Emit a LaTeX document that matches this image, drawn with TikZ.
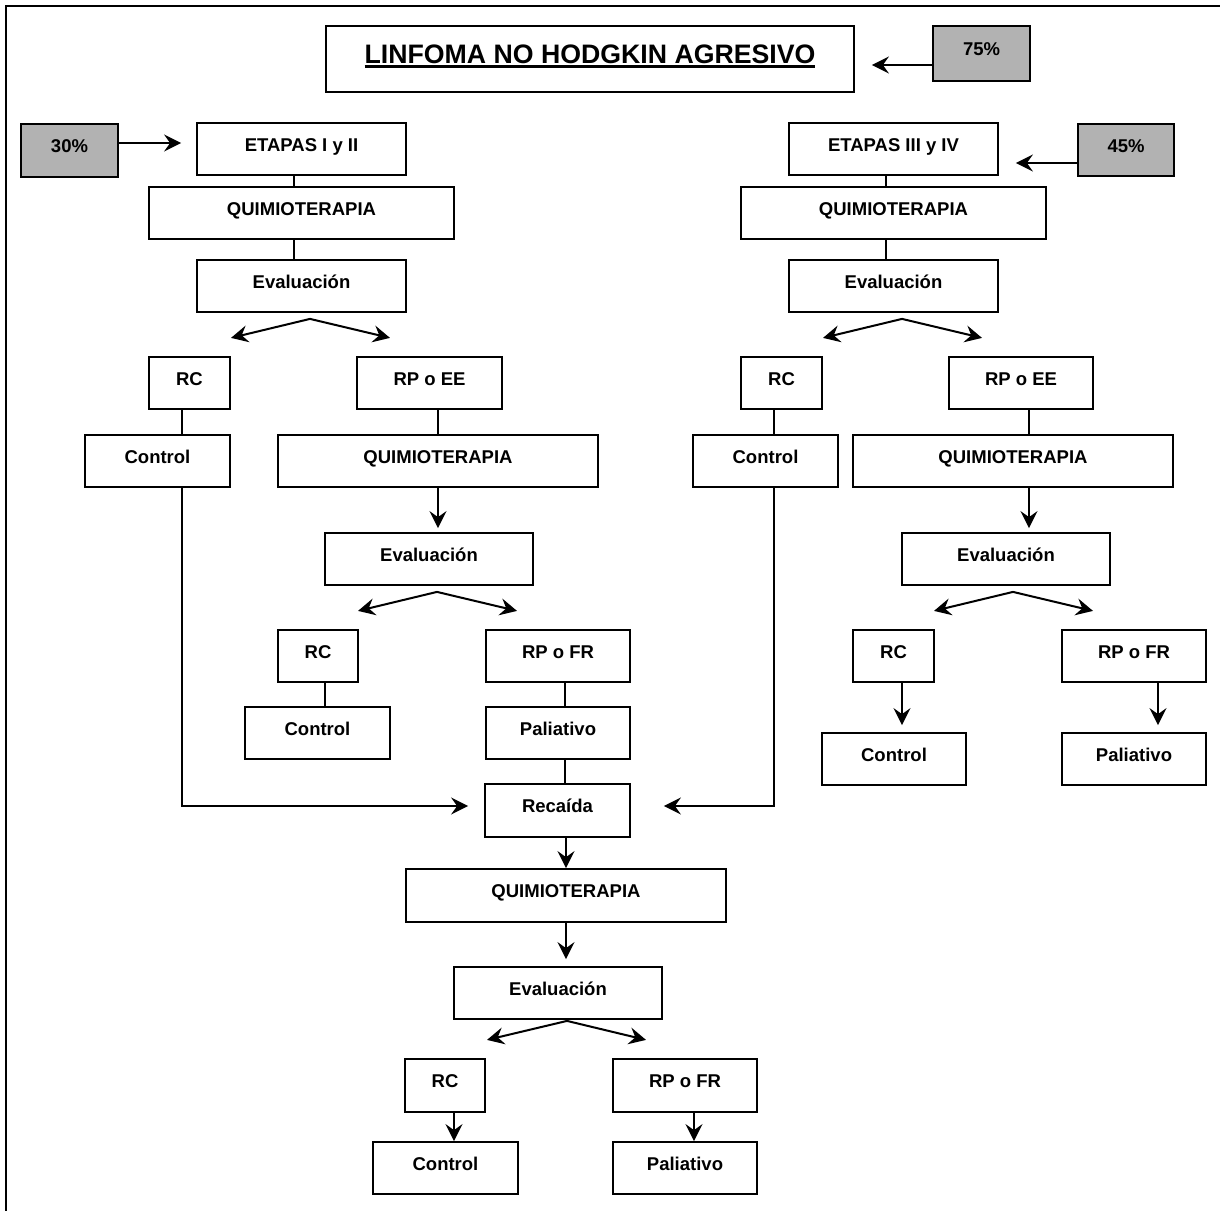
\documentclass[tikz,border=0pt]{standalone}
\usepackage{fontspec}
\setmainfont{Liberation Sans}
\usetikzlibrary{arrows.meta}
\definecolor{pctgray}{gray}{0.7}
% underline with a thicker rule placed a little below the baseline
\newcommand\titlebar[1]{\setbox0\hbox{#1}\rlap{\rule[-4pt]{\wd0}{2.4pt}}\box0}

\tikzset{
  box/.style={draw, line width=1.8pt, fill=white, inner sep=0pt,
    minimum height=52pt, font=\fontsize{18.5}{20}\selectfont\bfseries,
    text height=13.3pt, text depth=9pt},
  pct/.style={box, fill=pctgray},
  ln/.style={line width=2pt},
  arr/.style={ln, -{Stealth[length=17pt, width=17pt, inset=6pt]}},
}

\begin{document}
\begin{tikzpicture}[x=1pt, y=-1pt]
\useasboundingbox (0,0) rectangle (1220,1211);

% page frame (top and left edges)
\draw[line width=2.2pt] (1220,6) -- (6,6) -- (6,1211);

% title and percentages
\node[box, minimum width=528pt, minimum height=66pt,
      font=\fontsize{26.7}{28}\selectfont\bfseries,
      text height=19.1pt, text depth=10pt] (title) at (590,59)
      {\titlebar{LINFOMA NO HODGKIN AGRESIVO}};
\node[pct, minimum width=97pt, minimum height=55pt] (p75) at (981.5,53.5) {75\%};
\node[pct, minimum width=97pt, minimum height=53pt] (p30) at (69.5,150.5) {30\%};
\node[pct, minimum width=96pt] (p45) at (1126,150) {45\%};

% stages
\node[box, minimum width=209pt] (e12) at (301.5,149) {ETAPAS I y II};
\node[box, minimum width=209pt] (e34) at (893.5,149) {ETAPAS III y IV};

% first line of treatment
\node[box, minimum width=305pt] (q1) at (301.5,213) {QUIMIOTERAPIA};
\node[box, minimum width=305pt] (q2) at (893.5,213) {QUIMIOTERAPIA};
\node[box, minimum width=209pt] (ev1) at (301.5,286) {Evaluación};
\node[box, minimum width=209pt] (ev2) at (893.5,286) {Evaluación};

\node[box, minimum width=81pt]  (rc1)   at (189.5,383) {RC};
\node[box, minimum width=145pt] (rpee1) at (429.5,383) {RP o EE};
\node[box, minimum width=81pt]  (rc2)   at (781.5,383) {RC};
\node[box, minimum width=144pt] (rpee2) at (1021,383)  {RP o EE};

\node[box, minimum width=145pt] (ctl1) at (157.5,461) {Control};
\node[box, minimum width=320pt] (q3)   at (438,461)   {QUIMIOTERAPIA};
\node[box, minimum width=145pt] (ctl2) at (765.5,461) {Control};
\node[box, minimum width=320pt] (q4)   at (1013,461)  {QUIMIOTERAPIA};

% second evaluation
\node[box, minimum width=208pt] (ev3) at (429,559)  {Evaluación};
\node[box, minimum width=208pt] (ev4) at (1006,559) {Evaluación};

\node[box, minimum width=80pt]  (rc3)   at (318,656)  {RC};
\node[box, minimum width=144pt] (rpfr1) at (558,656)  {RP o FR};
\node[box, minimum width=145pt] (ctl3)  at (317.5,733) {Control};
\node[box, minimum width=144pt] (pal1)  at (558,733)  {Paliativo};

\node[box, minimum width=81pt]  (rc4)   at (893.5,656) {RC};
\node[box, minimum width=144pt] (rpfr2) at (1134,656)  {RP o FR};
\node[box, minimum width=144pt] (ctl4)  at (894,759)   {Control};
\node[box, minimum width=144pt] (pal2)  at (1134,759)  {Paliativo};

% relapse
\node[box, minimum width=145pt, minimum height=53pt] (rec) at (557.5,810.5) {Recaída};
\node[box, minimum width=320pt, minimum height=53pt] (q5)  at (566,895.5) {QUIMIOTERAPIA};
\node[box, minimum width=208pt] (ev5) at (558,993) {Evaluación};
\node[box, minimum width=80pt,  minimum height=53pt] (rc5)   at (445,1085.5) {RC};
\node[box, minimum width=144pt, minimum height=53pt] (rpfr3) at (685,1085.5) {RP o FR};
\node[box, minimum width=145pt] (ctl5) at (445.5,1168) {Control};
\node[box, minimum width=144pt] (pal3) at (685,1168)   {Paliativo};

% percentage arrows
\draw[arr] ([yshift=-11.5pt]p75.west) -- ([xshift=17pt,yshift=-6pt]title.east);
\draw[arr] ([yshift=7.5pt]p30.east) -- ([xshift=-15pt,yshift=6pt]e12.west);
\draw[arr] ([yshift=-13pt]p45.west) -- ([xshift=17pt,yshift=-14pt]e34.east);

% plain links
\draw[ln] ([xshift=-7.5pt]e12.south) -- ([xshift=-7.5pt]e12.south |- q1.north);
\draw[ln] ([xshift=-7.5pt]e34.south) -- ([xshift=-7.5pt]e34.south |- q2.north);
\draw[ln] ([xshift=-7.5pt]q1.south) -- ([xshift=-7.5pt]q1.south |- ev1.north);
\draw[ln] ([xshift=-7.5pt]q2.south) -- ([xshift=-7.5pt]q2.south |- ev2.north);
\draw[ln] ([xshift=-7.5pt]rc1.south) -- ([xshift=-7.5pt]rc1.south |- ctl1.north);
\draw[ln] ([xshift=-7.5pt]rc2.south) -- ([xshift=-7.5pt]rc2.south |- ctl2.north);
\draw[ln] ([xshift=8.5pt]rpee1.south) -- ([xshift=8.5pt]rpee1.south |- q3.north);
\draw[ln] ([xshift=8pt]rpee2.south) -- ([xshift=8pt]rpee2.south |- q4.north);
\draw[ln] ([xshift=7pt]rc3.south) -- ([xshift=7pt]rc3.south |- ctl3.north);
\draw[ln] ([xshift=7pt]rpfr1.south) -- ([xshift=7pt]rpfr1.south |- pal1.north);
\draw[ln] ([xshift=7pt]pal1.south) -- ([xshift=7pt]pal1.south |- rec.north);

% split points below each evaluation
\coordinate (s1) at ([xshift=8.5pt,yshift=-6pt]ev1.south);
\coordinate (s2) at ([xshift=8.5pt,yshift=-6pt]ev2.south);
\coordinate (s3) at ([xshift=8pt,yshift=-6pt]ev3.south);
\coordinate (s4) at ([xshift=7pt,yshift=-6pt]ev4.south);
\coordinate (s5) at ([xshift=9pt,yshift=-1pt]ev5.south);
\foreach \s in {s1,s2,s3,s4} {
  \draw[arr] (\s) -- ([xshift=-79pt,yshift=-19pt]\s);
  \draw[arr] (\s) -- ([xshift=80pt,yshift=-19pt]\s);
}
\draw[arr] (s5) -- ([xshift=-80pt,yshift=-19pt]s5);
\draw[arr] (s5) -- ([xshift=79pt,yshift=-19pt]s5);

% arrows down the treatment lines
\draw[arr] ([xshift=0pt]q3.south) -- ([xshift=9pt,yshift=4pt]ev3.north);
\draw[arr] ([xshift=16pt]q4.south) -- ([xshift=23pt,yshift=4pt]ev4.north);
\draw[arr] ([xshift=8.5pt]rc4.south) -- ([xshift=8pt,yshift=7pt]ctl4.north);
\draw[arr] ([xshift=24pt]rpfr2.south) -- ([xshift=24pt,yshift=7pt]pal2.north);
\draw[arr] ([xshift=8.5pt]rec.south) -- ([xshift=0pt]q5.north);
\draw[arr] ([xshift=0pt]q5.south) -- ([xshift=8pt,yshift=7pt]ev5.north);
\draw[arr] ([xshift=9pt]rc5.south) -- ([xshift=8.5pt]ctl5.north);
\draw[arr] ([xshift=9pt]rpfr3.south) -- ([xshift=9pt]pal3.north);

% relapse returns from the control boxes
\draw[arr] ([xshift=24.5pt]ctl1.south) |- ([xshift=-16pt,yshift=4.5pt]rec.west);
\draw[arr] ([xshift=8.5pt]ctl2.south) |- ([xshift=33pt,yshift=4.5pt]rec.east);

\end{tikzpicture}
\end{document}
